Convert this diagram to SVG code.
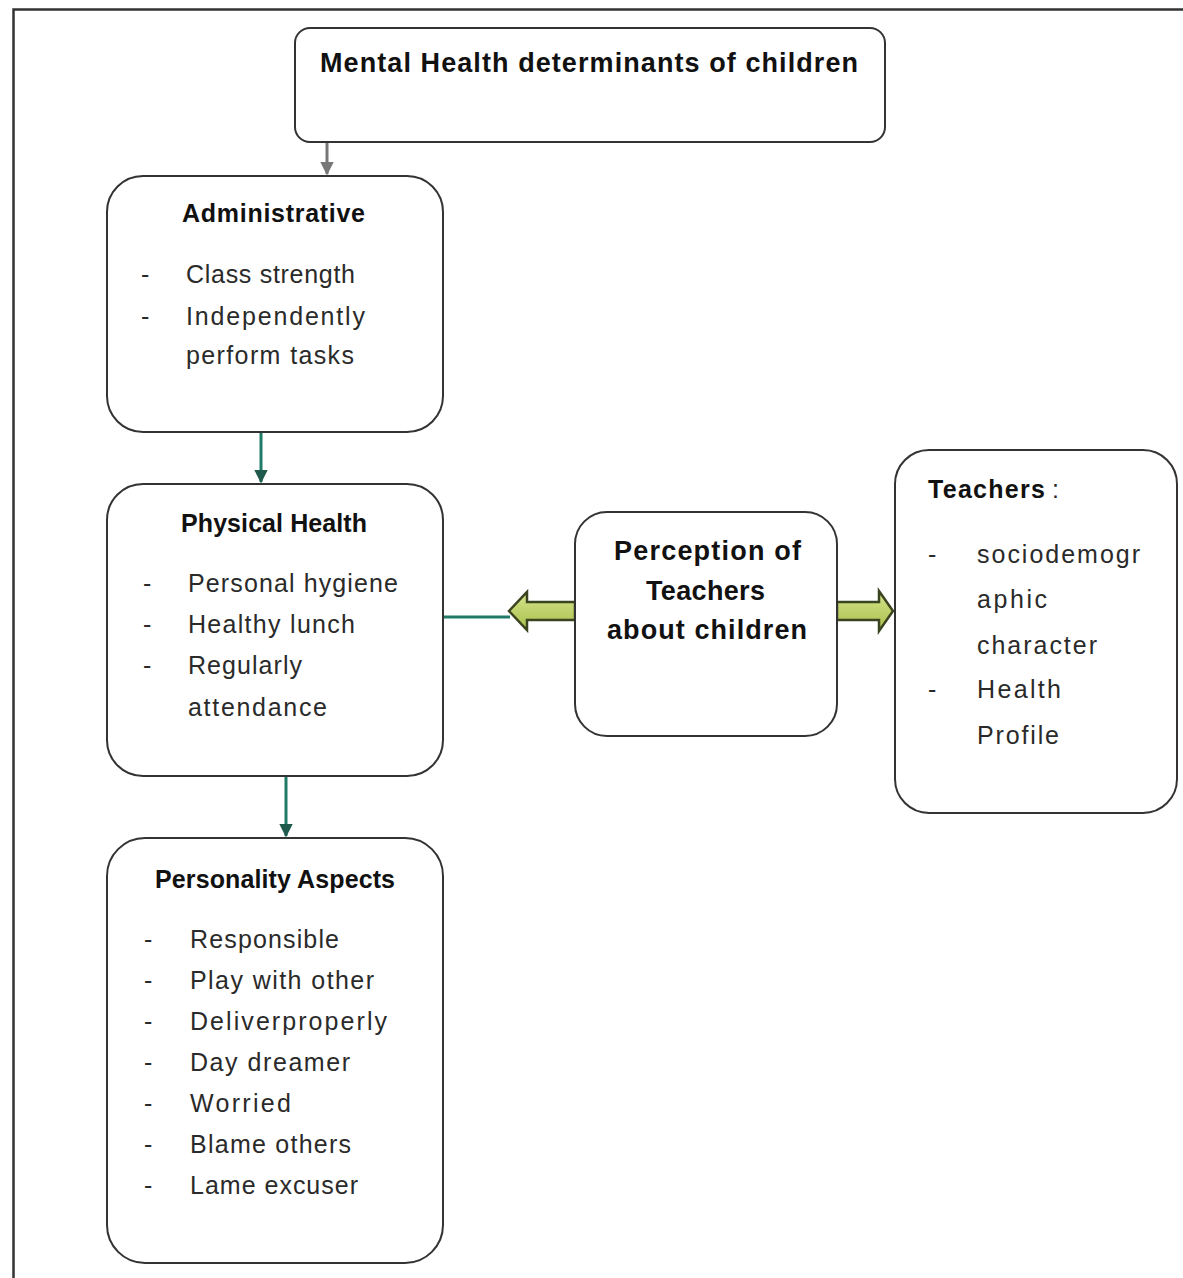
<svg xmlns="http://www.w3.org/2000/svg" width="1183" height="1278" viewBox="0 0 1183 1278">
<style>
.box{fill:#fff;stroke:#333;stroke-width:2}
.h{font-family:"Liberation Sans",Arial,sans-serif;font-weight:bold;font-size:25px;fill:#111}
.hb{font-size:27px}
.t{font-family:"Liberation Sans",Arial,sans-serif;font-size:25px;fill:#2a2a2a}
.teal{stroke:#1f7a68;stroke-width:3;fill:none}
.blk{fill:url(#g);stroke:#3b4420;stroke-width:2.5;stroke-linejoin:miter}
</style>
<defs>
<linearGradient id="g" x1="0" y1="0" x2="0" y2="1">
<stop offset="0" stop-color="#d6e48c"/>
<stop offset="1" stop-color="#a9bf4a"/>
</linearGradient>
<marker id="at" viewBox="0 0 10 10" refX="9" refY="5" markerWidth="4.5" markerHeight="4.5" orient="auto">
<path d="M0,0 L10,5 L0,10 z" fill="#1f5a4c"/>
</marker>
<marker id="ag" viewBox="0 0 10 10" refX="9" refY="5" markerWidth="4.5" markerHeight="4.5" orient="auto">
<path d="M0,0 L10,5 L0,10 z" fill="#777"/>
</marker>
</defs>
<rect width="1183" height="1278" fill="#fff"/>
<rect x="13.5" y="9.5" width="1190" height="1290" fill="none" stroke="#333" stroke-width="2.5"/>

<g id="connectors">
<line x1="327" y1="142" x2="327" y2="174" stroke="#777" stroke-width="3" marker-end="url(#ag)"/>
<line class="teal" x1="261" y1="432" x2="261" y2="482" marker-end="url(#at)"/>
<line class="teal" x1="286" y1="776" x2="286" y2="836" marker-end="url(#at)"/>
<line class="teal" x1="443" y1="617" x2="510" y2="617"/>
<path class="blk" d="M575,602 L527,602 L527,592 L509,611 L527,630 L527,620 L575,620 Z"/>
<path class="blk" d="M837,602 L879,602 L879,591 L893,611 L879,631 L879,620 L837,620 Z"/>
</g>

<g id="node-title">
<rect class="box" x="295" y="28" width="590" height="114" rx="15"/>
<text class="h hb" x="320" y="72" textLength="538">Mental Health determinants of children</text>
</g>

<g id="node-administrative">
<rect class="box" x="107" y="176" width="336" height="256" rx="36"/>
<text class="h" x="182" y="222" textLength="183">Administrative</text>
<text class="t" x="141" y="283">-</text>
<text class="t" x="186" y="283" textLength="169">Class strength</text>
<text class="t" x="141" y="325">-</text>
<text class="t" x="186" y="325" textLength="179">Independently</text>
<text class="t" x="186" y="364" textLength="168">perform tasks</text>
</g>

<g id="node-physical">
<rect class="box" x="107" y="484" width="336" height="292" rx="36"/>
<text class="h" x="181" y="532" textLength="186">Physical Health</text>
<text class="t" x="143" y="592">-</text>
<text class="t" x="188" y="592" textLength="210">Personal hygiene</text>
<text class="t" x="143" y="633">-</text>
<text class="t" x="188" y="633" textLength="167">Healthy lunch</text>
<text class="t" x="143" y="674">-</text>
<text class="t" x="188" y="674" textLength="114">Regularly</text>
<text class="t" x="188" y="716" textLength="139">attendance</text>
</g>

<g id="node-personality">
<rect class="box" x="107" y="838" width="336" height="425" rx="38"/>
<text class="h" x="155" y="888" textLength="240">Personality Aspects</text>
<text class="t" x="144" y="948">-</text>
<text class="t" x="190" y="948" textLength="149">Responsible</text>
<text class="t" x="144" y="989">-</text>
<text class="t" x="190" y="989" textLength="184">Play with other</text>
<text class="t" x="144" y="1030">-</text>
<text class="t" x="190" y="1030" textLength="197">Deliverproperly</text>
<text class="t" x="144" y="1071">-</text>
<text class="t" x="190" y="1071" textLength="160">Day dreamer</text>
<text class="t" x="144" y="1112">-</text>
<text class="t" x="190" y="1112" textLength="101">Worried</text>
<text class="t" x="144" y="1153">-</text>
<text class="t" x="190" y="1153" textLength="161">Blame others</text>
<text class="t" x="144" y="1194">-</text>
<text class="t" x="190" y="1194" textLength="168">Lame excuser</text>
</g>

<g id="node-perception">
<rect class="box" x="575" y="512" width="262" height="224" rx="32"/>
<text class="h hb" x="614" y="560" textLength="187">Perception of</text>
<text class="h hb" x="646" y="600" textLength="119">Teachers</text>
<text class="h hb" x="607" y="639" textLength="200">about children</text>
</g>

<g id="node-teachers">
<rect class="box" x="895" y="450" width="282" height="363" rx="34"/>
<text class="h" x="928" y="498" textLength="117">Teachers</text>
<text class="t" x="1052" y="498" fill="#999">:</text>
<text class="t" x="928" y="563">-</text>
<text class="t" x="977" y="563" textLength="163">sociodemogr</text>
<text class="t" x="977" y="608" textLength="70">aphic</text>
<text class="t" x="977" y="654" textLength="120">character</text>
<text class="t" x="928" y="698">-</text>
<text class="t" x="977" y="698" textLength="84">Health</text>
<text class="t" x="977" y="744" textLength="82">Profile</text>
</g>
</svg>
